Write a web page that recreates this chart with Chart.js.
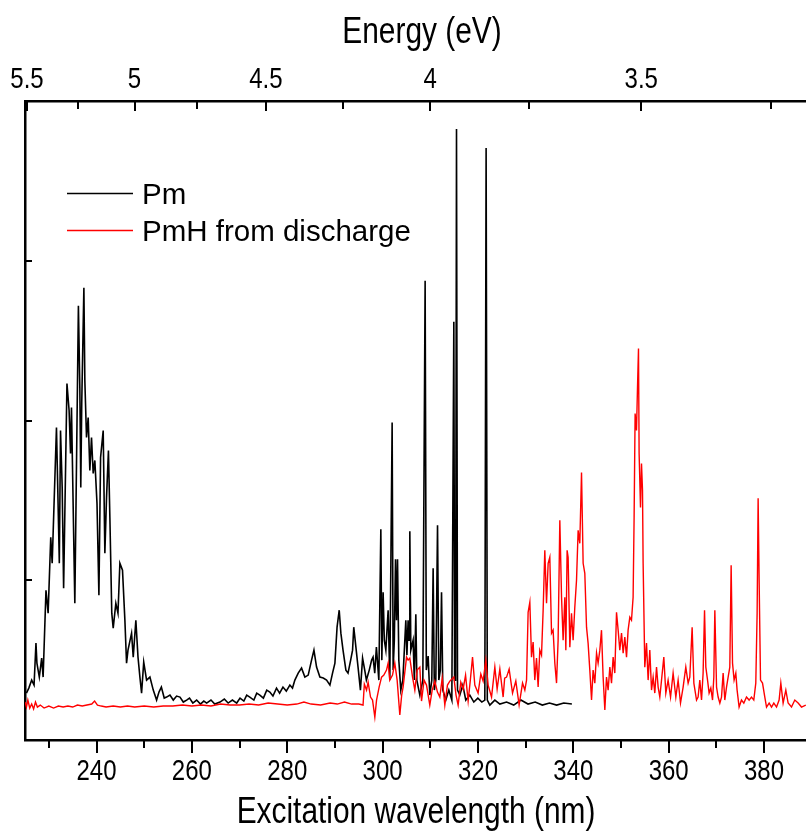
<!DOCTYPE html>
<html>
<head>
<meta charset="utf-8">
<script src="https://cdn.jsdelivr.net/npm/chart.js@4.4.1/dist/chart.umd.min.js"></script>
<style>
  body { margin: 0; background: #fff; }
  #wrap { width: 806px; height: 832px; }
</style>
</head>
<body>
<div id="wrap"><canvas id="chart1" width="806" height="832"></canvas></div>
<script>
// excitation spectra, intensity in arbitrary units
const pmWavelength = [
  225.3, 225.8, 226.4, 226.9, 227.3, 227.5, 228.0, 228.5, 228.8, 229.4, 229.85, 230.4, 230.7, 230.9,
  231.6, 232.2, 232.45, 232.8, 233.1, 233.8, 234.25, 234.55, 234.75, 235.45, 236.2, 236.5, 236.7,
  236.9, 237.35, 237.55, 237.9, 238.25, 238.6, 238.95, 239.3, 239.65, 240.1, 240.5, 240.85, 241.4,
  241.75, 242.1, 242.5, 242.8, 243.2, 243.5, 244.05, 244.5, 244.9, 245.45, 245.95, 246.3, 246.6,
  247.35, 247.7, 248.25, 248.7, 249.1, 249.45, 249.9, 250.5, 251.2, 251.9, 252.6, 253.1, 253.6,
  254.2, 254.7, 255.4, 256.1, 256.8, 257.5, 258.2, 258.9, 259.5, 260.2, 261.0, 261.8, 262.5, 263.1,
  264.0, 264.8, 265.9, 266.8, 267.6, 268.5, 269.4, 270.1, 270.9, 271.5, 272.15, 273.0, 273.6, 274.25,
  275.0, 275.7, 276.35, 277.0, 277.75, 278.4, 279.1, 279.8, 280.55, 281.1, 281.6, 282.3, 283.0,
  283.7, 284.4, 285.1, 285.6, 286.15, 286.85, 287.55, 288.25, 288.95, 289.5, 290.0, 290.45, 290.9,
  291.25, 291.7, 292.3, 292.75, 293.3, 293.7, 293.95, 294.4, 294.85, 295.35, 295.8, 296.25, 296.6,
  297.2, 297.7, 298.0, 298.35, 298.7, 299.21, 299.63, 299.84, 300.11, 300.36, 300.68, 301.16,
  301.51, 302.0, 302.21, 302.46, 302.71, 302.92, 303.13, 303.4, 303.82, 304.24, 304.56, 304.87,
  305.1, 305.35, 305.54, 305.71, 305.92, 306.4, 306.65, 306.97, 307.18, 307.81, 308.44, 308.92,
  309.17, 309.55, 309.9, 310.32, 310.6, 310.85, 311.16, 311.52, 311.79, 312.11, 312.36, 312.63,
  313.26, 313.89, 314.52, 314.94, 315.1, 315.31, 315.5, 315.71, 316.2, 316.82, 317.45, 318.29,
  319.13, 319.97, 320.81, 321.44, 321.71, 321.96, 322.49, 323.54, 324.59, 326.0, 327.5, 329.0,
  330.5, 332.0, 333.5, 335.0, 336.5, 338.0, 339.7
];
const pmIntensity = [
  47, 52, 60, 55, 97, 77, 63, 82, 63, 150, 127, 203, 177, 207,
  313, 177, 310, 253, 152, 357, 330, 287, 333, 137, 435, 353, 253,
  337, 453, 360, 303, 323, 270, 303, 267, 280, 237, 145, 283, 310,
  187, 243, 290, 223, 127, 112, 137, 127, 177, 170, 120, 77, 90,
  107, 83, 120, 83, 63, 47, 78, 60, 63, 50, 40, 48, 53,
  42, 43, 45, 40, 44, 43, 38, 40, 42, 37, 40, 36, 39, 37,
  40, 36, 38, 41, 37, 40, 37, 42, 39, 45, 43, 40, 47, 45,
  42, 50, 48, 44, 52, 47, 53, 49, 55, 52, 60, 67, 72,
  63, 65, 80, 90, 73, 63, 62, 60, 55, 67, 77, 113, 130,
  107, 90, 70, 67, 80, 90, 113, 93, 73, 50, 82, 70, 60,
  70, 80, 83, 67, 93, 60, 211, 80, 148, 100, 90, 130,
  60, 318, 70, 100, 181, 120, 181, 80, 50, 60, 90, 120,
  85, 120, 100, 209, 90, 100, 60, 126, 60, 45, 60, 460,
  70, 84, 45, 60, 172, 50, 60, 215, 60, 70, 148, 50,
  40, 50, 40, 419, 60, 60, 612, 50, 45, 55, 40, 45,
  38, 42, 38, 40, 593, 40, 35, 40, 36, 38, 35, 40,
  36, 38, 35, 37, 35, 37, 36
];

const pmhWavelength = [
  225.0, 225.3, 225.6, 226.0, 226.4, 226.8, 227.2, 227.6, 228.2, 229.0, 230.0, 231.0, 232.0, 233.0,
  234.0, 235.0, 236.0, 237.0, 238.0, 239.0, 239.6, 240.2, 241.0, 242.0, 243.5, 245.0, 246.5, 248.0,
  250.0, 252.0, 254.0, 256.0, 258.0, 260.0, 262.0, 264.0, 266.0, 268.0, 270.0, 272.0, 274.0, 276.0,
  278.0, 280.0, 282.0, 283.5, 285.0, 287.0, 289.0, 290.5, 292.0, 293.5, 295.0, 295.9, 296.17,
  296.63, 296.96, 297.47, 297.89, 298.37, 298.73, 299.27, 299.78, 300.26, 300.82, 301.16, 301.51,
  302.08, 302.56, 303.05, 303.61, 304.0, 304.3, 305.02, 305.35, 305.71, 306.28, 306.76, 307.24,
  307.81, 308.16, 308.7, 309.21, 309.9, 310.4, 310.95, 311.5, 312.0, 312.5, 313.05, 313.6, 314.1,
  314.94, 315.4, 315.84, 316.4, 316.89, 317.4, 317.94, 318.4, 318.86, 319.34, 320.03, 320.6,
  321.08, 321.65, 322.13, 322.85, 323.54, 324.02, 324.59, 325.28, 325.6, 326.0, 326.54, 327.25,
  327.94, 328.63, 329.35, 329.83, 330.19, 330.52, 330.88, 331.23, 331.57, 331.92, 332.28, 332.62,
  332.97, 333.33, 333.67, 334.02, 334.38, 334.72, 335.07, 335.43, 335.76, 336.12, 336.48, 336.81,
  337.17, 337.53, 337.86, 338.22, 338.43, 338.7, 338.91, 339.27, 339.62, 339.96, 340.31, 340.67,
  341.01, 341.36, 341.72, 342.06, 342.41, 342.77, 343.1, 343.46, 343.82, 344.15, 344.51, 344.87,
  345.2, 345.56, 345.91, 346.25, 346.61, 346.96, 347.3, 347.66, 348.01, 348.35, 348.7, 349.06,
  349.4, 349.75, 350.11, 350.45, 350.8, 351.16, 351.49, 351.85, 352.2, 352.54, 352.75, 352.96,
  353.25, 353.46, 353.67, 353.8, 354.09, 354.3, 354.51, 354.64, 354.99, 355.35, 355.69, 356.04,
  356.4, 356.74, 357.09, 357.45, 357.79, 358.14, 358.5, 358.98, 359.4, 359.88, 360.39, 360.93,
  361.5, 361.98, 362.48, 363.03, 363.59, 364.08, 364.43, 364.92, 365.28, 365.84, 366.17, 366.53,
  366.89, 367.22, 367.52, 367.79, 368.15, 368.48, 368.84, 369.2, 369.47, 369.68, 370.04, 370.37,
  370.73, 371.08, 371.42, 371.77, 372.13, 372.47, 372.82, 373.1, 373.39, 373.72, 374.08, 374.35,
  374.77, 375.27, 375.76, 376.32, 376.87, 377.37, 377.85, 378.27, 378.55, 378.76, 378.97, 379.26,
  379.68, 380.16, 380.52, 381.07, 381.57, 382.05, 382.62, 383.16, 383.52, 384.0, 384.57, 385.05,
  385.76, 386.45, 387.15, 387.86, 388.76
];
const pmhIntensity = [
  38, 33, 40, 32, 36, 31, 38, 33, 35, 32, 34, 32, 34, 33,
  34, 33, 35, 34, 35, 36, 39, 35, 34, 33, 34, 33, 34, 33,
  34, 33, 34, 34, 35, 34, 35, 34, 36, 35, 35, 36, 35, 37,
  36, 35, 36, 38, 36, 35, 37, 36, 38, 36, 36, 35, 56,
  50, 58, 43, 40, 23, 40, 53, 63, 65, 70, 77, 60,
  65, 77, 60, 25, 45, 53, 83, 80, 82, 63, 50, 70,
  73, 39, 60, 55, 35, 50, 59, 48, 43, 62, 35, 55, 59,
  63, 45, 35, 58, 51, 65, 39, 60, 83, 55, 47, 66,
  59, 80, 55, 43, 73, 51, 71, 43, 62, 63, 71, 47,
  59, 35, 57, 50, 60, 128, 138, 83, 98, 60, 82, 53,
  90, 85, 130, 190, 137, 177, 183, 107, 110, 77, 57, 100,
  220, 143, 100, 143, 90, 190, 183, 93, 127, 100, 133, 160,
  210, 197, 268, 177, 167, 113, 97, 70, 40, 70, 57, 87,
  77, 90, 110, 63, 30, 63, 50, 73, 57, 83, 67, 128,
  110, 90, 107, 87, 103, 83, 110, 123, 120, 143, 223, 327,
  310, 353, 392, 287, 233, 277, 250, 177, 73, 97, 60, 90,
  50, 63, 47, 73, 53, 43, 60, 83, 47, 60, 43, 67,
  43, 60, 37, 53, 73, 57, 63, 113, 57, 40, 43, 60,
  40, 67, 130, 73, 60, 47, 52, 40, 63, 130, 53, 43,
  37, 43, 67, 40, 53, 63, 73, 175, 77, 60, 67, 50,
  33, 40, 37, 43, 40, 43, 40, 57, 127, 242, 160, 60,
  57, 43, 33, 37, 33, 37, 33, 40, 57, 37, 50, 37,
  33, 40, 37, 33, 35
];

// axis ticks
const wavelengthTicks = [230, 240, 250, 260, 270, 280, 290, 300, 310, 320, 330, 340, 350, 360, 370, 380];
const wavelengthLabels = [240, 260, 280, 300, 320, 340, 360, 380];
const energyLabels = [5.5, 5, 4.5, 4, 3.5];
const energyMinor = [5.25, 4.75, 4.25, 3.75, 3.25];
const intensityTicks = [0, 160, 320, 480, 640];
const HC = 1239.84; // eV nm

function toPoints(xs, ys) {
    return xs.map((x, i) => ({ x: x, y: ys[i] }));
}

// condensed Arial-like text (the original uses a narrow face)
function narrowText(ctx, text, x, y, size, squeeze) {
    ctx.save();
    ctx.translate(x, y);
    ctx.scale(squeeze, 1);
    ctx.font = size + "px 'Liberation Sans', Arial, sans-serif";
    ctx.textAlign = 'center';
    ctx.textBaseline = 'alphabetic';
    ctx.fillText(text, 0, 0);
    ctx.restore();
}

// ticks, labels and legend drawn on top of the axes
const axisDecor = {
    id: 'axisDecor',
    afterDraw(chart) {
        const ctx = chart.ctx;
        const a = chart.chartArea;
        const sx = chart.scales.x;
        const sy = chart.scales.y;
        ctx.save();
        ctx.strokeStyle = '#000';
        ctx.fillStyle = '#000';
        ctx.lineWidth = 2;
        ctx.beginPath();
        wavelengthTicks.forEach(v => {
            const px = Math.round(sx.getPixelForValue(v));
            const len = wavelengthLabels.includes(v) ? 13 : 8;
            ctx.moveTo(px, a.bottom);
            ctx.lineTo(px, a.bottom + len);
        });
        energyLabels.concat(energyMinor).forEach(e => {
            const px = Math.round(sx.getPixelForValue(HC / e));
            const len = energyLabels.includes(e) ? 10 : 8;
            ctx.moveTo(px, a.top);
            ctx.lineTo(px, a.top + len);
        });
        intensityTicks.forEach(v => {
            const py = Math.round(sy.getPixelForValue(v));
            ctx.moveTo(a.left, py);
            ctx.lineTo(a.left + 7, py);
        });
        ctx.stroke();

        // tick labels
        wavelengthLabels.forEach(v => {
            narrowText(ctx, String(v), sx.getPixelForValue(v), a.bottom + 40, 30, 0.8);
        });
        energyLabels.forEach(e => {
            narrowText(ctx, String(e), sx.getPixelForValue(HC / e), a.top - 13, 30, 0.8);
        });
        // axis titles
        narrowText(ctx, 'Excitation wavelength (nm)', 416, a.bottom + 83, 36, 0.83);
        narrowText(ctx, 'Energy (eV)', 422, 43, 36, 0.83);

        // legend
        const items = [chart.data.datasets[1], chart.data.datasets[0]];
        const rows = [193, 230];
        ctx.font = "29.5px 'Liberation Sans', Arial, sans-serif";
        ctx.textAlign = 'left';
        ctx.textBaseline = 'alphabetic';
        items.forEach((ds, i) => {
            ctx.strokeStyle = ds.borderColor;
            ctx.lineWidth = 1.5;
            ctx.beginPath();
            ctx.moveTo(67, rows[i] + 0.5);
            ctx.lineTo(133, rows[i] + 0.5);
            ctx.stroke();
            ctx.fillText(ds.label, 142, rows[i] + 11);
        });
        ctx.restore();
    }
};

new Chart(document.getElementById('chart1'), {
    type: 'line',
    data: {
        datasets: [{
            label: 'PmH from discharge',
            data: toPoints(pmhWavelength, pmhIntensity),
            borderColor: '#ff0000',
            borderWidth: 1.4,
            pointRadius: 0,
            tension: 0,
            order: 0
        }, {
            label: 'Pm',
            data: toPoints(pmWavelength, pmIntensity),
            borderColor: '#000000',
            borderWidth: 1.6,
            pointRadius: 0,
            tension: 0,
            order: 1
        }]
    },
    options: {
        responsive: false,
        animation: false,
        devicePixelRatio: 1,
        layout: { padding: 0 },
        plugins: { legend: { display: false }, tooltip: { enabled: false } },
        scales: {
            x: {
                type: 'linear',
                position: 'bottom',
                min: 225,
                max: 388.8,
                grid: { display: false, drawTicks: false },
                border: { display: true, color: '#000', width: 2.5 },
                afterFit: s => { s.height = 92; },
                ticks: { display: false }
            },
            xTop: {
                type: 'linear',
                position: 'top',
                min: 225,
                max: 388.8,
                grid: { display: false, drawTicks: false },
                border: { display: true, color: '#000', width: 2.5 },
                afterFit: s => { s.height = 101; },
                ticks: { display: false }
            },
            y: {
                type: 'linear',
                position: 'left',
                min: 0,
                max: 640,
                grid: { display: false, drawTicks: false },
                border: { display: true, color: '#000', width: 2.5 },
                afterFit: s => { s.width = 25; },
                ticks: { display: false }
            }
        }
    },
    plugins: [axisDecor]
});
</script>
</body>
</html>
